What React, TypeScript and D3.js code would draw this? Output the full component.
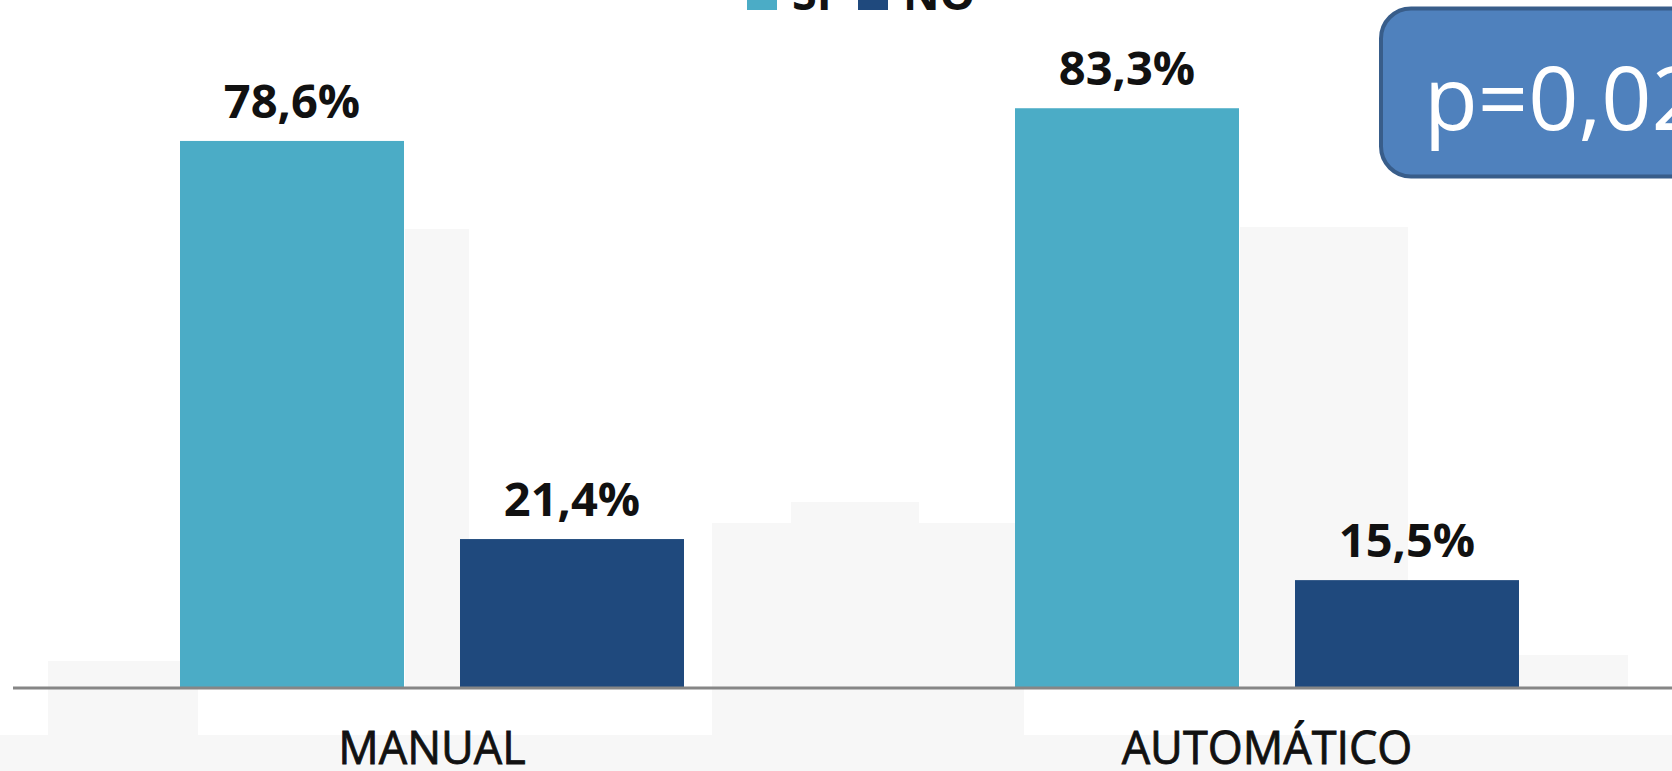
import React from "react";
import * as d3 from "d3";

const categories = ["MANUAL", "AUTOMÁTICO"];
const series = ["SÍ", "NO"];
const siValues = [78.6, 83.3];
const noValues = [21.4, 15.5];
const valueLabels = [["78,6%", "21,4%"], ["83,3%", "15,5%"]];
const pValueText = "p=0,02";

const colors = ["#4bacc6", "#1f497d"];

const W = 1672;
const H = 771;

export default function App() {
  const x0 = d3.scaleBand<string>().domain(categories).range([14.5, 1684.5]).padding(0);
  const x1 = d3.scaleBand<string>().domain(series).range([0, 504]).paddingInner(0.2).paddingOuter(0);
  const y = d3.scaleLinear().domain([0, 100]).range([688, -8]);
  const groupOffset = (x0.bandwidth() - 504) / 2;

  const bars = categories.flatMap((c, ci) =>
    series.map((s, si) => {
      const v = si === 0 ? siValues[ci] : noValues[ci];
      return { c, s, v, label: valueLabels[ci][si], color: colors[si] };
    })
  );

  const font = "'Open Sans', 'Noto Sans', sans-serif";

  return (
    <div style={{ position: "absolute", left: 0, top: 0, width: W, height: H, overflow: "hidden" }}>
      <svg width={W} height={H} style={{ display: "block" }}>
        <rect x={0} y={0} width={W} height={H} fill="#ffffff" />
        {/* faint backdrop */}
        <g fill="#f7f7f7">
          <rect x={0} y={735} width={W} height={40} />
          <rect x={48} y={661} width={150} height={74} />
          <rect x={405} y={229} width={64} height={459} />
          <rect x={712} y={523} width={312} height={212} />
          <rect x={791} y={502} width={128} height={30} />
          <rect x={1240} y={227} width={168} height={461} />
          <rect x={1518} y={655} width={110} height={33} />
        </g>
        {/* bars */}
        {bars.map((b, i) => {
          const bx = (x0(b.c) as number) + groupOffset + (x1(b.s) as number);
          return (
            <g key={i}>
              <rect x={bx} y={y(b.v)} width={x1.bandwidth()} height={y(0) - y(b.v)} fill={b.color} />
              <text
                x={bx + x1.bandwidth() / 2}
                y={y(b.v) - 23}
                textAnchor="middle"
                fontFamily={font}
                fontWeight={700}
                fontSize={47}
                fill="#111"
              >
                {b.label}
              </text>
            </g>
          );
        })}
        {/* axis */}
        <line x1={13} x2={W} y1={y(0)} y2={y(0)} stroke="#868686" strokeWidth={3} />
        {categories.map((c) => (
          <text
            key={c}
            x={(x0(c) as number) + x0.bandwidth() / 2}
            y={764}
            textAnchor="middle"
            fontFamily={font}
            fontSize={45}
            fill="#111"
            stroke="#111"
            strokeWidth={0.8}
          >
            {c}
          </text>
        ))}
        {/* legend (cut at top) */}
        {series.map((s, i) => {
          const lx = [747, 858][i];
          return (
            <g key={s}>
              <rect x={lx} y={-20} width={30} height={30} fill={colors[i]} />
              <text x={lx + 45} y={10} fontFamily={font} fontWeight={700} fontSize={45} fill="#111">
                {s}
              </text>
            </g>
          );
        })}
        {/* p value box */}
        <rect x={1381} y={8.5} width={400} height={168} rx={30} ry={30} fill="#4f81bd" stroke="#385d8a" strokeWidth={4} />
        <text x={1424} y={130} fontFamily={font} fontSize={88} fill="#ffffff">
          {pValueText}
        </text>
      </svg>
    </div>
  );
}
